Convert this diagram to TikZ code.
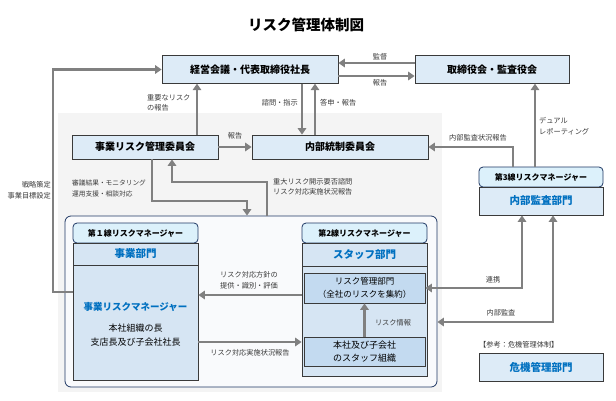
\documentclass[tikz,border=0pt]{standalone}
\usepackage{fontspec}
\setmainfont{Noto Sans CJK JP}
\usetikzlibrary{arrows.meta}
\definecolor{boxfill}{HTML}{DDEBF7}
\definecolor{boxline}{HTML}{3A3A3A}
\definecolor{hdrfill}{HTML}{DCF1FB}
\definecolor{hdrline}{HTML}{1F3864}
\definecolor{bodyfill}{HTML}{D6E5F3}
\definecolor{innerfill}{HTML}{C3DAF0}
\definecolor{arrgray}{HTML}{808080}
\definecolor{bluetext}{HTML}{0070C0}
\definecolor{labtext}{HTML}{3A3A3A}
\definecolor{bggray}{HTML}{F4F4F4}
\definecolor{outerfill}{HTML}{F9FAFC}
\tikzset{
  box/.style={draw=boxline, line width=0.8pt, fill=boxfill, inner sep=0pt, font=\bfseries\fontsize{10}{12}\selectfont},
  hdr/.style={draw=hdrline, line width=0.8pt, fill=hdrfill, rounded corners=4pt, inner sep=0pt, minimum width=125pt, minimum height=20pt, font=\bfseries\fontsize{8}{10}\selectfont},
  dept/.style={draw=boxline, line width=0.8pt, fill=bodyfill, inner sep=0pt, minimum width=125pt, text=bluetext, font=\bfseries\fontsize{10.5}{12}\selectfont},
  inner/.style={draw=boxline, line width=0.8pt, fill=innerfill, inner sep=0pt, minimum width=121pt, align=center, font=\fontsize{8.5}{13}\selectfont},
  lab/.style={text=labtext, inner sep=0pt, font=\fontsize{7.2}{10.5}\selectfont},
  arr/.style={draw=arrgray, line width=2.6pt, -{Triangle[width=8.5pt,length=6.5pt]}},
  arrb/.style={draw=arrgray, line width=2.6pt, {Triangle[width=8.5pt,length=6.5pt]}-{Triangle[width=8.5pt,length=6.5pt]}}
}
\begin{document}
\begin{tikzpicture}[x=1pt,y=-1pt]
\useasboundingbox (0,0) rectangle (616,400);
\fill[white] (0,0) rectangle (616,400);
% title
\node[inner sep=0pt, font=\bfseries\fontsize{14.5}{16}\selectfont] (title) at (306,25) {リスク管理体制図};
% gray background
\fill[bggray] (58,113) rectangle (442,392);
% outer container
\node[draw=hdrline, line width=0.8pt, fill=outerfill, rounded corners=6pt, minimum width=372pt, minimum height=171pt, inner sep=0pt] (outer) at (251,301.5) {};
% top boxes
\node[box, minimum width=176pt, minimum height=27.5pt] (A) at (250,69.5) {経営会議・代表取締役社長};
\node[box, minimum width=154pt, minimum height=27.5pt] (B) at (492,69.5) {取締役会・監査役会};
% committees
\node[box, minimum width=146pt, minimum height=24pt] (C) at (145,147) {事業リスク管理委員会};
\node[box, minimum width=176pt, minimum height=24pt] (D) at (340,147) {内部統制委員会};
% third line
\node[hdr, minimum width=124pt] (Eh) at (541,177) {第3線リスクマネージャー};
\node[dept, minimum width=124pt, minimum height=28pt, fill=boxfill] (Eb) at (541,201) {内部監査部門};
% crisis
\node[lab, anchor=west] (ref) at (479,345) {【参考：危機管理体制】};
\node[dept, minimum width=124pt, minimum height=28pt, fill=boxfill] (F) at (541,367) {危機管理部門};
% first line
\node[hdr] (h1) at (135.5,233) {第１線リスクマネージャー};
\node[dept, minimum height=22pt] (d1) at (135.5,254) {事業部門};
\node[draw=boxline, line width=0.8pt, fill=bodyfill, minimum width=125pt, minimum height=115pt, inner sep=0pt] (b1) at (135.5,322.5) {};
\node[inner sep=0pt, text=bluetext, font=\bfseries\fontsize{9.5}{12}\selectfont] (m1) at (135.5,307) {事業リスクマネージャー};
\node[inner sep=0pt, align=center, font=\fontsize{9}{14}\selectfont] (m2) at (135.5,335.5) {本社組織の長\\支店長及び子会社社長};
% second line
\node[hdr] (h2) at (364.5,233) {第2線リスクマネージャー};
\node[dept, minimum height=23pt] (d2) at (364.5,254.5) {スタッフ部門};
\node[draw=boxline, line width=0.8pt, fill=bodyfill, minimum width=125pt, minimum height=110pt, inner sep=0pt] (b2) at (364.5,321) {};
\node[inner, minimum height=30pt] (I1) at (364.5,288) {リスク管理部門\\（全社のリスクを集約）};
\node[inner, minimum height=29pt, font=\fontsize{9}{13}\selectfont] (I2) at (364.5,351.5) {本社及び子会社\\のスタッフ組織};
% helper coordinates
\coordinate (lb) at (53,292);
\coordinate (p1) at (197,0);
\coordinate (q1) at (302,0);
\coordinate (q2) at (315,0);
\coordinate (q3) at (535,0);
\coordinate (q4) at (513,0);
\coordinate (q5) at (522,0);
\coordinate (q6) at (553,322);
\coordinate (r1) at (0,295);
\coordinate (r2) at (0,342);
\coordinate (s1) at (152,201);
\coordinate (s2) at (247,201);
\coordinate (t1) at (267,182);
\coordinate (t2) at (172,182);
% connectors
\draw[arr] (lb -| b1.west) -- (lb) |- (A.west);
\draw[arr] ([yshift=6.5pt]B.west) -- ([yshift=6.5pt]A.east);
\draw[arr] ([yshift=-6.5pt]A.east) -- ([yshift=-6.5pt]B.west);
\draw[arr] (C.north -| p1) -- (A.south -| p1);
\draw[arr] (A.south -| q1) -- (D.north -| q1);
\draw[arr] (D.north -| q2) -- (A.south -| q2);
\draw[arr] (C.east) -- (D.west);
\draw[arr] (Eh.north -| q3) -- (B.south -| q3);
\draw[arr] (Eh.north -| q4) |- (D.east);
\draw[arrb] (Eb.south -| q5) |- (I1.east);
\draw[arrb] (Eb.south -| q6) -- (q6) -- (q6 -| outer.east);
\draw[arr] (b2.west |- r1) -- (b1.east |- r1);
\draw[arr] (b1.east |- r2) -- (b2.west |- r2);
\draw[arr] (I2.north) -- (I1.south);
\draw[arr] (C.south -| s1) -- (s1) -- (s2) -- (s2 |- outer.north);
\draw[arr] (t1 |- outer.north) -- (t1) -- (t2) -- (t2 |- C.south);
% labels
\node[lab] (l1) at (380,57) {監督};
\node[lab] (l2) at (380,83) {報告};
\node[lab, anchor=west, align=left] (l3) at (147,103) {重要なリスク\\の報告};
\node[lab, anchor=east] (l4) at (298,103) {諮問・指示};
\node[lab, anchor=west] (l5) at (320,103) {答申・報告};
\node[lab] (l6) at (235,136) {報告};
\node[lab, anchor=west, align=left] (l7) at (539,126) {デュアル\\レポーティング};
\node[lab] (l8) at (478,138) {内部監査状況報告};
\node[lab, anchor=west, align=left, font=\fontsize{6.7}{10.5}\selectfont] (l9) at (72,188.5) {審議結果・モニタリング\\運用支援・相談対応};
\node[lab, anchor=west, align=left] (l10) at (273,187) {重大リスク開示要否諮問\\リスク対応実施状況報告};
\node[lab, anchor=east, align=right] (l11) at (51,190.5) {戦略策定\\事業目標設定};
\node[lab, align=center] (l12) at (249,280.5) {リスク対応方針の\\提供・識別・評価};
\node[lab] (l13) at (250,353) {リスク対応実施状況報告};
\node[lab] (l14) at (393,323) {リスク情報};
\node[lab] (l15) at (493,280) {連携};
\node[lab] (l16) at (501,313) {内部監査};
\end{tikzpicture}
\end{document}
